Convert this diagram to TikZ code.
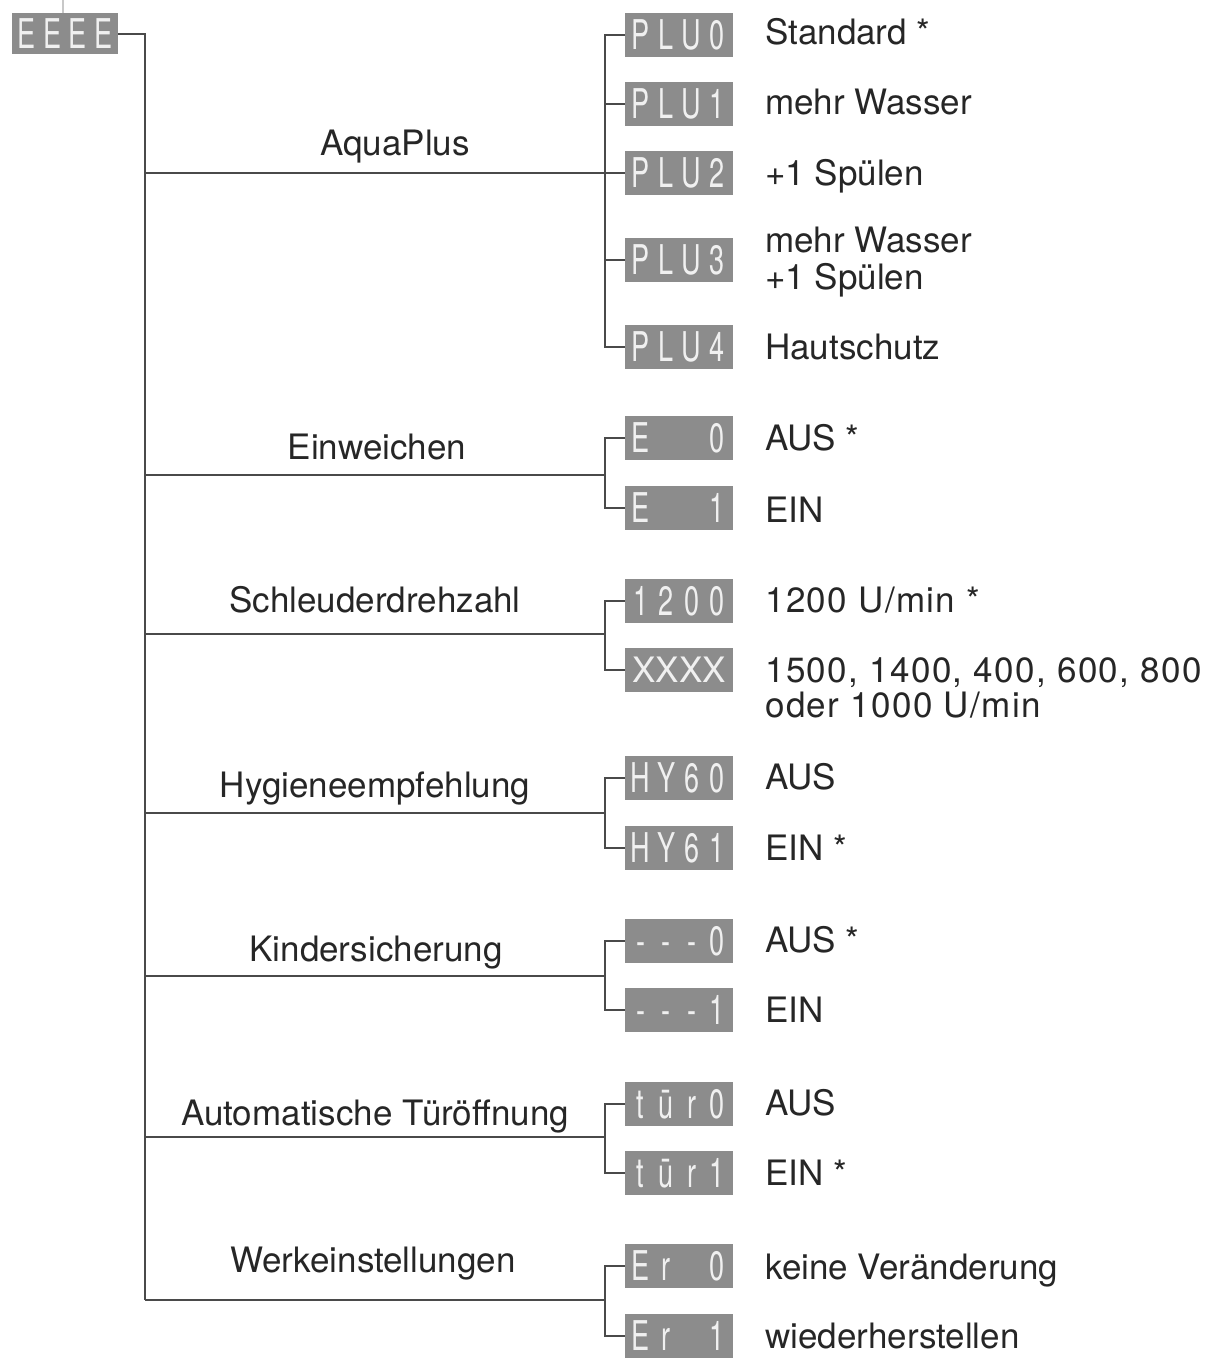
\documentclass[tikz,border=0pt]{standalone}
\usepackage{fontspec}
\setmainfont{TeX Gyre Heros}
\usepackage{graphicx}
\definecolor{ln}{HTML}{4A4A4A}
\definecolor{txt}{HTML}{262626}
\definecolor{dispbg}{HTML}{8C8C8C}
\definecolor{dispfg}{HTML}{F0F0F0}
\definecolor{faint}{HTML}{C8C8C8}
\newcommand\sgch[1]{\makebox[25.5pt]{\scalebox{0.66}[1]{#1}}}
\newcommand\digs[4]{\sgch{#1}\sgch{#2}\sgch{#3}\sgch{#4}}
\newcommand\twol[2]{\begin{tabular}[t]{@{}l@{}}#1\\#2\end{tabular}}
\begin{document}
\begin{tikzpicture}[x=1pt,y=-1pt,
  conn/.style={draw=ln, line width=1.8pt},
  disp/.style={fill=dispbg, minimum width=108pt, minimum height=44pt, inner sep=0pt,
    text=dispfg, font=\fontsize{41}{41}\selectfont},
  cat/.style={anchor=base, text=txt, inner sep=0pt, font=\fontsize{35}{37}\selectfont},
  opt/.style={anchor=base west, text=txt, inner sep=0pt, font=\fontsize{35}{37}\selectfont},
  wide/.style={font=\fontsize{35}{34}\selectfont\addfontfeature{LetterSpace=4}}]
\useasboundingbox (0,0) rectangle (1212,1362);
% root
\node[disp, minimum width=106pt, minimum height=41pt] (root) at (65,34) {\digs{E}{E}{E}{E}};
\coordinate (topend) at (63,0);
\draw[faint, line width=1.2pt] (root.north -| topend) -- (topend);
% displays
\node[disp] (p0) at (679,35) {\digs{P}{L}{U}{0}};
\node[disp] (p1) at (679,104) {\digs{P}{L}{U}{1}};
\node[disp] (p2) at (679,173) {\digs{P}{L}{U}{2}};
\node[disp] (p3) at (679,260) {\digs{P}{L}{U}{3}};
\node[disp] (p4) at (679,347) {\digs{P}{L}{U}{4}};
\node[disp] (e0) at (679,438) {\digs{E}{}{}{0}};
\node[disp] (e1) at (679,508) {\digs{E}{}{}{1}};
\node[disp] (s0) at (679,601) {\digs{1}{2}{0}{0}};
\node[disp, font=\fontsize{35}{35}\selectfont] (s1) at (679,670) {XXXX};
\node[disp] (h0) at (679,778) {\digs{H}{Y}{6}{0}};
\node[disp] (h1) at (679,848) {\digs{H}{Y}{6}{1}};
\node[disp] (k0) at (679,941) {\digs{-}{-}{-}{0}};
\node[disp] (k1) at (679,1010) {\digs{-}{-}{-}{1}};
\node[disp] (t0) at (679,1104) {\digs{t}{ū}{r}{0}};
\node[disp] (t1) at (679,1173) {\digs{t}{ū}{r}{1}};
\node[disp] (r0) at (679,1266) {\digs{E}{r}{}{0}};
\node[disp] (r1) at (679,1336) {\digs{E}{r}{}{1}};
% branch points
\coordinate (bA) at (605,173);
\coordinate (bE) at (605,475);
\coordinate (bS) at (605,634);
\coordinate (bH) at (605,813);
\coordinate (bK) at (605,976);
\coordinate (bT) at (605,1137);
\coordinate (bW) at (605,1300);
\coordinate (tk) at (145,34);
% trunk
\draw[conn] (root.east) -- (tk) -- (tk |- bW);
\foreach \b in {bA,bE,bS,bH,bK,bT,bW} {\draw[conn] (tk |- \b) -- (\b);}
% sub branches
\draw[conn] (p0.west) -| (bA) |- (p4.west);
\draw[conn] (p1.west) -- (bA |- p1.west);
\draw[conn] (p2.west) -- (bA |- p2.west);
\draw[conn] (p3.west) -- (bA |- p3.west);
\draw[conn] (e0.west) -| (bE) |- (e1.west);
\draw[conn] (s0.west) -| (bS) |- (s1.west);
\draw[conn] (h0.west) -| (bH) |- (h1.west);
\draw[conn] (k0.west) -| (bK) |- (k1.west);
\draw[conn] (t0.west) -| (bT) |- (t1.west);
\draw[conn] (r0.west) -| (bW) |- (r1.west);
% category labels
\node[cat] (lA) at (395,156) {AquaPlus};
\node[cat] (lE) at (377,459) {Einweichen};
\node[cat] (lS) at (375,612) {Schleuderdrehzahl};
\node[cat] (lH) at (375,797) {Hygieneempfehlung};
\node[cat] (lK) at (376,961) {Kindersicherung};
\node[cat] (lT) at (375,1125) {Automatische Türöffnung};
\node[cat] (lW) at (373,1272) {Werkeinstellungen};
% option texts
\node[opt] (o1) at (765,45) {Standard *};
\node[opt] (o2) at (765,114) {mehr Wasser};
\node[opt] (o3) at (765,185) {+1 Spülen};
\node[opt] (o4) at (765,252) {\twol{mehr Wasser}{+1 Spülen}};
\node[opt] (o5) at (765,359) {Hautschutz};
\node[opt] (o6) at (765,450) {AUS *};
\node[opt] (o7) at (765,522) {EIN};
\node[opt, wide] (o8) at (765,612) {1200 U/min *};
\node[opt, wide] (o9) at (765,682) {\twol{1500, 1400, 400, 600, 800}{oder 1000 U/min}};
\node[opt] (o10) at (765,789) {AUS};
\node[opt] (o11) at (765,860) {EIN *};
\node[opt] (o12) at (765,952) {AUS *};
\node[opt] (o13) at (765,1022) {EIN};
\node[opt] (o14) at (765,1115) {AUS};
\node[opt] (o15) at (765,1185) {EIN *};
\node[opt] (o16) at (765,1279) {keine Veränderung};
\node[opt] (o17) at (765,1348) {wiederherstellen};
\end{tikzpicture}
\end{document}
